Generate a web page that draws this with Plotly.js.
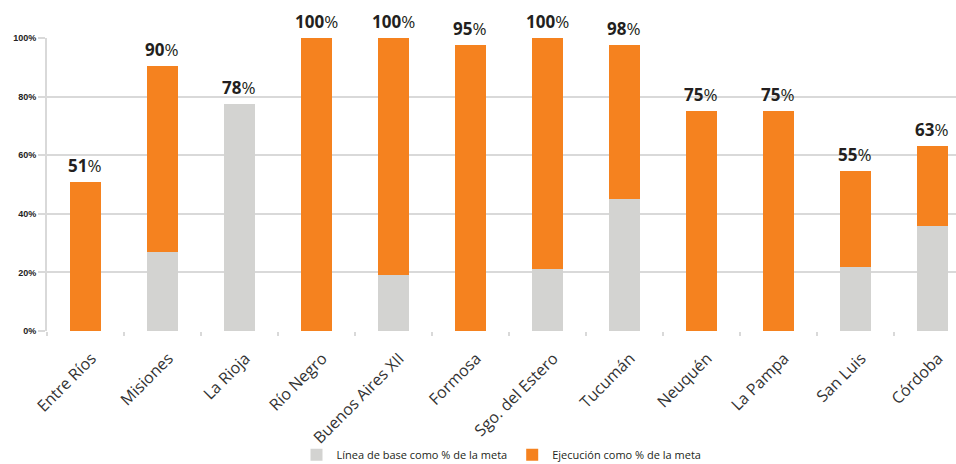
<!DOCTYPE html>
<html>
<head>
<meta charset="utf-8">
<script src="https://cdn.plot.ly/plotly-3.0.1.min.js"></script>
<style>html,body{margin:0;padding:0;background:#fff;}#chart{width:956px;height:464px;}</style>
</head>
<body>
<div id="chart"></div>
<script>
const categories = ["Entre Ríos","Misiones","La Rioja","Río Negro","Buenos Aires XII","Formosa","Sgo. del Estero","Tucumán","Neuquén","La Pampa","San Luis","Córdoba"];
const baseValues = [0, 27, 77.5, 0, 19, 0, 21, 45, 0, 0, 22, 36];
const execValues = [51, 63.5, 0, 100, 81, 97.5, 79, 52.5, 75, 75, 32.5, 27];
const totalLabels = ["51","90","78","100","100","95","100","98","75","75","55","63"];
const yTicks = [0, 20, 40, 60, 80, 100];

const orange = "#F5821F";
const gray = "#D3D3D1";
const gridColor = "#D9D9D9";

const traces = [
  {type:"bar", name:"Línea de base como % de la meta", x:categories, y:baseValues, marker:{color:gray}, hoverinfo:"skip"},
  {type:"bar", name:"Ejecución como % de la meta", x:categories, y:execValues, marker:{color:orange}, hoverinfo:"skip"}
];

const annotations = categories.map((c,i)=>({
  x:c, y: baseValues[i]+execValues[i], xref:"x", yref:"y",
  text:"<b>"+totalLabels[i]+"</b>%", showarrow:false, yanchor:"bottom", yshift:3,
  font:{family:"Open Sans", size:17, color:"#231F20"}
}));

const layout = {
  width:956, height:464,
  margin:{l:47, r:0, t:38, b:133, pad:0, autoexpand:false},
  barmode:"stack", bargap:0.6,
  paper_bgcolor:"#fff", plot_bgcolor:"#fff",
  showlegend:true,
  legend:{orientation:"h", x:0.5, xanchor:"center", y:-0.472, yanchor:"bottom",
    font:{family:"Open Sans", size:11, color:"#231F20"}, traceorder:"normal",
    bgcolor:"rgba(0,0,0,0)"},
  xaxis:{type:"category", range:[-0.5, 11.31], tickangle:-45, automargin:false,
    tickfont:{family:"Open Sans", size:16, color:"#333"},
    ticklabelstandoff:14, ticklabelshift:6,
    showgrid:false, showline:false, zeroline:false,
    ticks:"outside", tickson:"boundaries", ticklen:4, tickcolor:gridColor, tickwidth:2},
  yaxis:{range:[0,100], tickvals:yTicks, ticktext:yTicks.map(v=>v+"%"), automargin:false,
    tickfont:{family:"Liberation Sans", size:9, color:"#222", weight:"bold"},
    showgrid:true, gridcolor:gridColor, gridwidth:2, zeroline:false,
    showline:true, linecolor:gridColor, linewidth:2,
    ticks:"outside", ticklen:7, tickcolor:gridColor, tickwidth:2},
  annotations:annotations
};

Plotly.newPlot("chart", traces, layout, {displayModeBar:false, staticPlot:true});
</script>
</body>
</html>
